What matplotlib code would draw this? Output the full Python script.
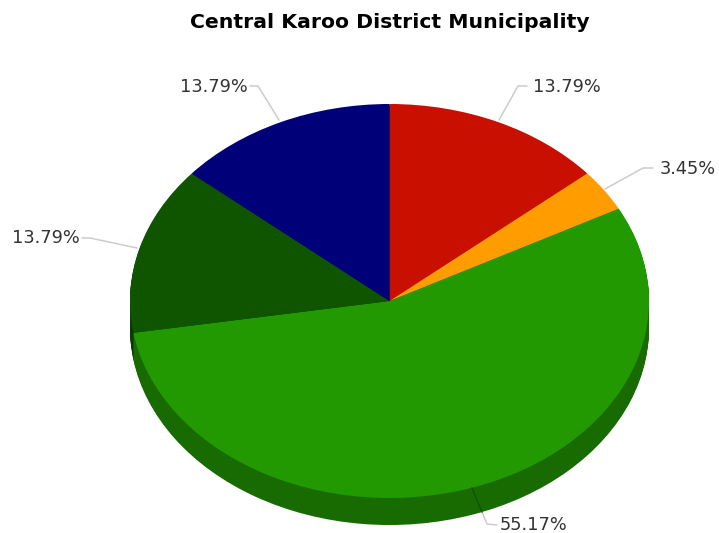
import matplotlib
matplotlib.use("Agg")
import matplotlib.pyplot as plt

# slice shares, clockwise from twelve o'clock
shares = [13.79, 3.45, 55.17, 13.79, 13.79]
share_labels = ["13.79%", "3.45%", "55.17%", "13.79%", "13.79%"]
top_colors = ["#c80f00", "#ff9c00", "#229900", "#0f5500", "#000078"]
side_colors = ["#8c0a00", "#b36d00", "#176b00", "#0a3b00", "#000054"]

W, H = 719, 533
CX, CY = 389.5, 301.0
RX, RY = 259.5, 197.0
DEPTH = 27

fig = plt.figure(figsize=(W / 100, H / 100), dpi=100, facecolor="white")

# unit-radius pie squashed into an ellipse by the axes limits
ax = fig.add_axes([0, 0, 1, 1])
for d in range(DEPTH, 0, -1):
    ax.pie(shares, colors=side_colors, startangle=90, counterclock=False,
           center=(0, -d / RY), radius=1, wedgeprops={"linewidth": 0.6, "edgecolor": "none"})
ax.pie(shares, colors=top_colors, startangle=90, counterclock=False,
       center=(0, 0), radius=1, wedgeprops={"linewidth": 0})
ax.set_aspect("auto")
ax.set_xlim((0 - CX) / RX, (W - CX) / RX)
ax.set_ylim((CY - H) / RY, CY / RY)
ax.axis("off")

# overlay in pixel coordinates for leaders and labels
over = fig.add_axes([0, 0, 1, 1], facecolor="none")
over.set_xlim(0, W)
over.set_ylim(H, 0)
over.axis("off")

leaders = [
    ([499, 518, 527], [120, 86, 86]),
    ([605, 643, 653], [189, 168, 168]),
    ([482, 487, 497], [512, 524, 525]),
    ([137, 90, 82], [248, 238, 238]),
    ([279, 258, 250], [120, 86, 86]),
]
anchors = [(533, 87, "left"), (660, 169, "left"), (500, 525, "left"),
           (80, 238, "right"), (248, 87, "right")]

for (xs, ys) in leaders:
    over.plot(xs, ys, color="#cccccc", lw=1.1, solid_capstyle="round")
# part of the 55.17% leader that crosses the rim
over.plot([472, 482], [488, 512], color="#0f5500", lw=1.0)

for label, (x, y, ha) in zip(share_labels, anchors):
    over.text(x, y, label, ha=ha, va="center", fontsize=12.8, color="#333333",
              family="DejaVu Sans")

over.text(389.5, 22, "Central Karoo District Municipality", ha="center", va="center",
          fontsize=14.7, fontweight="bold", color="#000000", family="DejaVu Sans")

fig.savefig("out.png", dpi=100, facecolor="white")
